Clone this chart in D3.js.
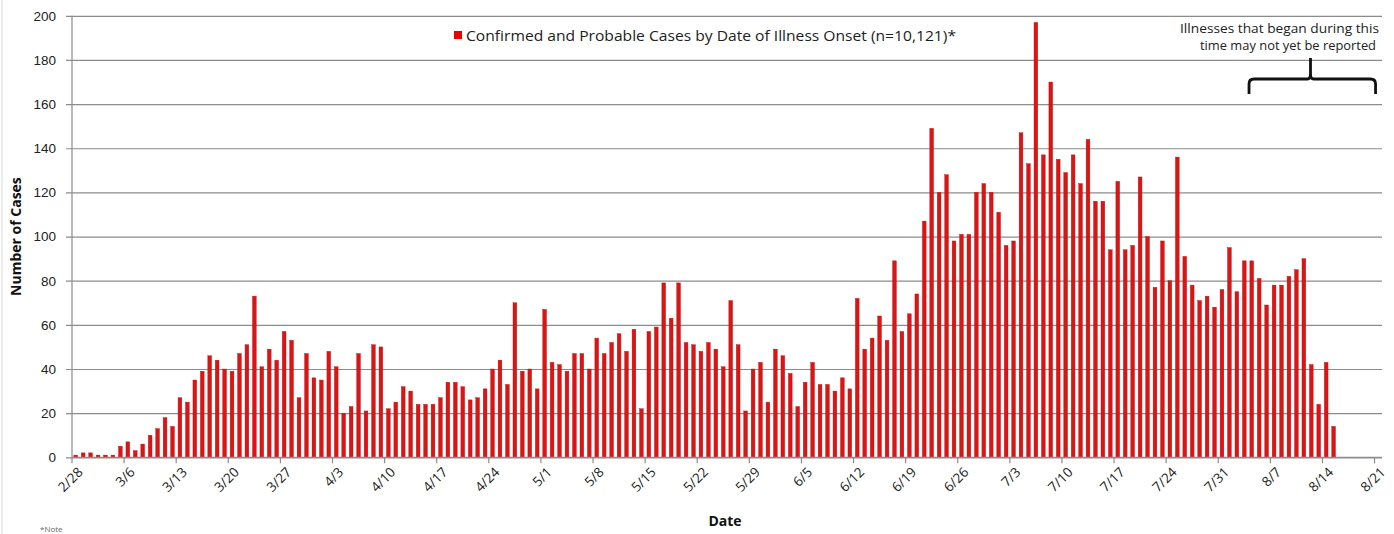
<!DOCTYPE html>
<html>
<head>
<meta charset="utf-8">
<script src="https://cdn.jsdelivr.net/npm/d3@7"></script>
<style>
  html, body { margin: 0; padding: 0; background: #fff; }
  svg { display: block; font-family: "Open Sans", "Noto Sans", sans-serif; }
</style>
</head>
<body>
<svg id="chart" width="1394" height="534"></svg>
<script>
// ---- data ----
const dates = [
  "2/28","2/29","3/1","3/2","3/3","3/4","3/5","3/6","3/7","3/8","3/9","3/10","3/11","3/12",
  "3/13","3/14","3/15","3/16","3/17","3/18","3/19","3/20","3/21","3/22","3/23","3/24","3/25","3/26",
  "3/27","3/28","3/29","3/30","3/31","4/1","4/2","4/3","4/4","4/5","4/6","4/7","4/8","4/9",
  "4/10","4/11","4/12","4/13","4/14","4/15","4/16","4/17","4/18","4/19","4/20","4/21","4/22","4/23",
  "4/24","4/25","4/26","4/27","4/28","4/29","4/30","5/1","5/2","5/3","5/4","5/5","5/6","5/7",
  "5/8","5/9","5/10","5/11","5/12","5/13","5/14","5/15","5/16","5/17","5/18","5/19","5/20","5/21",
  "5/22","5/23","5/24","5/25","5/26","5/27","5/28","5/29","5/30","5/31","6/1","6/2","6/3","6/4",
  "6/5","6/6","6/7","6/8","6/9","6/10","6/11","6/12","6/13","6/14","6/15","6/16","6/17","6/18",
  "6/19","6/20","6/21","6/22","6/23","6/24","6/25","6/26","6/27","6/28","6/29","6/30","7/1","7/2",
  "7/3","7/4","7/5","7/6","7/7","7/8","7/9","7/10","7/11","7/12","7/13","7/14","7/15","7/16",
  "7/17","7/18","7/19","7/20","7/21","7/22","7/23","7/24","7/25","7/26","7/27","7/28","7/29","7/30",
  "7/31","8/1","8/2","8/3","8/4","8/5","8/6","8/7","8/8","8/9","8/10","8/11","8/12","8/13",
  "8/14","8/15","8/16","8/17","8/18","8/19","8/20","8/21"
];
const cases = [
  1,2,2,1,1,1,5,7,3,6,10,13,18,14,
  27,25,35,39,46,44,40,39,47,51,73,41,49,44,
  57,53,27,47,36,35,48,41,20,23,47,21,51,50,
  22,25,32,30,24,24,24,27,34,34,32,26,27,31,
  40,44,33,70,39,40,31,67,43,42,39,47,47,40,
  54,47,52,56,48,58,22,57,59,79,63,79,52,51,
  48,52,49,41,71,51,21,40,43,25,49,46,38,23,
  34,43,33,33,30,36,31,72,49,54,64,53,89,57,
  65,74,107,149,120,128,98,101,101,120,124,120,111,96,
  98,147,133,197,137,170,135,129,137,124,144,116,116,94,
  125,94,96,127,100,77,98,80,136,91,78,71,73,68,
  76,95,75,89,89,81,69,78,78,82,85,90,42,24,
  43,14
];
const tickLabels = ["2/28","3/6","3/13","3/20","3/27","4/3","4/10","4/17","4/24","5/1","5/8","5/15","5/22",
  "5/29","6/5","6/12","6/19","6/26","7/3","7/10","7/17","7/24","7/31","8/7","8/14","8/21"];
const yTicks = [0,20,40,60,80,100,120,140,160,180,200];
const legendLabel = "Confirmed and Probable Cases by Date of Illness Onset (n=10,121)*";
const noteLines = ["Illnesses that began during this", "time may not yet be reported"];
const bracketFrom = "8/4", bracketTo = "8/21";

// ---- layout ----
const svg = d3.select("#chart");
const L = 72, R = 1382, T = 15.8, B = 457.3;

const x = d3.scaleBand().domain(dates).range([L, R]).paddingInner(0.5).paddingOuter(0.25);
const step = x.step();
const edge = d => x(d) - x.paddingInner() * step / 2; // left edge of a day's slot
const y = d3.scaleLinear().domain([0, 200]).range([B, T]);

// outer left border
svg.append("line").attr("x1", 2).attr("x2", 2).attr("y1", 0).attr("y2", 534)
  .attr("stroke", "#d9d9d9").attr("stroke-width", 1);

// gridlines + y axis
const yAxis = d3.axisLeft(y).tickValues(yTicks).tickSize(R - L + 6).tickPadding(10);
const gy = svg.append("g").attr("transform", `translate(${R},0)`).call(yAxis);
gy.select(".domain").remove();
gy.selectAll(".tick line").attr("stroke", "#8c8c8c").attr("stroke-width", 1.2);
gy.selectAll(".tick text").attr("font-size", 13.5).attr("fill", "#222")
  .attr("x", -(R - L) - 16);

// y axis vertical line
svg.append("line").attr("x1", L).attr("x2", L).attr("y1", T).attr("y2", B)
  .attr("stroke", "#8c8c8c").attr("stroke-width", 1.2);

// bars
svg.append("g").selectAll("rect").data(cases).join("rect")
  .attr("x", (d, i) => x(dates[i]))
  .attr("width", x.bandwidth())
  .attr("y", d => y(d))
  .attr("height", d => B - y(d))
  .attr("fill", "#dc1414")
  .attr("stroke", "#b81010").attr("stroke-width", 0.4);

// x axis ticks
const gx = svg.append("g");
gx.append("line").attr("x1", L).attr("x2", R).attr("y1", B).attr("y2", B)
  .attr("stroke", "#8c8c8c").attr("stroke-width", 1.2);
gx.selectAll("line.tk").data(tickLabels).join("line").attr("class", "tk")
  .attr("x1", d => edge(d)).attr("x2", d => edge(d))
  .attr("y1", B).attr("y2", B + 6)
  .attr("stroke", "#8c8c8c").attr("stroke-width", 1.2);
gx.selectAll("text").data(tickLabels).join("text")
  .attr("transform", d => `translate(${edge(d) + 5},${B + 9}) rotate(-45)`)
  .attr("text-anchor", "end").attr("dy", "0.7em")
  .attr("font-size", 13.5).attr("fill", "#222")
  .text(d => d);

// axis titles
svg.append("text").attr("transform", `translate(21,${(T + B) / 2}) rotate(-90)`)
  .attr("text-anchor", "middle").attr("font-weight", "bold").attr("font-size", 14)
  .attr("fill", "#111").text("Number of Cases");
svg.append("text").attr("x", 725).attr("y", 526).attr("text-anchor", "middle")
  .attr("font-weight", "bold").attr("font-size", 14).attr("fill", "#111").text("Date");

// legend
svg.append("rect").attr("x", 454).attr("y", 31).attr("width", 8).attr("height", 8).attr("fill", "#ee0000");
svg.append("text").attr("x", 466).attr("y", 40.5).attr("font-size", 15).attr("fill", "#222")
  .attr("textLength", 490).attr("lengthAdjust", "spacingAndGlyphs").text(legendLabel);

// annotation
const ann = svg.append("g");
const noteX = [1180, 1200], noteW = [199, 176];
noteLines.forEach((s, i) => {
  ann.append("text").attr("x", noteX[i]).attr("y", 33 + i * 16.5)
    .attr("font-size", 12.5).attr("fill", "#222")
    .attr("textLength", noteW[i]).attr("lengthAdjust", "spacingAndGlyphs").text(s);
});
const bx0 = edge(bracketFrom) + 1, bx1 = edge(bracketTo) + 1, bmid = 1310.5;
ann.append("path")
  .attr("d", `M${bx0},94 L${bx0},84 Q${bx0},79 ${bx0 + 5},79 L${bmid - 3},79 Q${bmid},79 ${bmid},74 L${bmid},58
              M${bmid},74 Q${bmid},79 ${bmid + 3},79 L${bx1 - 5},79 Q${bx1},79 ${bx1},84 L${bx1},94`)
  .attr("fill", "none").attr("stroke", "#111").attr("stroke-width", 2.8);

// footnote (at the bottom edge)
svg.append("text").attr("x", 40).attr("y", 532).attr("font-size", 8).attr("fill", "#666").text("*Note");
</script>
</body>
</html>
